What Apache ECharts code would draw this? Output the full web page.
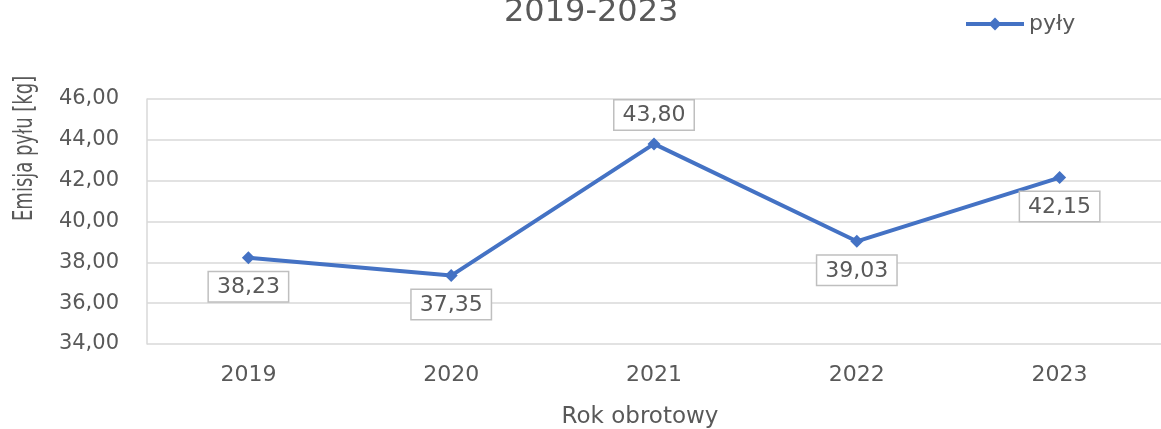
<!DOCTYPE html>
<html>
<head>
<meta charset="utf-8">
<script src="https://cdn.jsdelivr.net/npm/echarts@6/dist/echarts.min.js"></script>
<style>
    html, body { margin: 0; padding: 0; background: #fff; }
    #chart { width: 1161px; height: 429px; }
</style>
</head>
<body>
<div id="chart"></div>
<script>
// dane z wykresu
var lata = ['2019', '2020', '2021', '2022', '2023'];
var pyly = [38.23, 37.35, 43.80, 39.03, 42.15];
var polozenieEtykiet = ['bottom', 'bottom', 'top', 'bottom', 'bottom'];
var yMin = 34, yMax = 46, yKrok = 2;

var szary = '#595959';
var font = 'DejaVu Sans';

var chart = echarts.init(document.getElementById('chart'));

var punkty = pyly.map(function (v, i) {
    return {
        value: v,
        label: { position: polozenieEtykiet[i] }
    };
});

var option = {
    animation: false,
    title: {
        text: '2019-2023',
        left: 499,
        top: -8,
        textStyle: { fontFamily: font, fontSize: 32, fontWeight: 'normal', color: szary }
    },
    legend: {
        left: 959,
        top: 8,
        itemWidth: 58,
        itemHeight: 16,
        itemGap: 4,
        lineStyle: { width: 4 },
        textStyle: { fontFamily: font, fontSize: 22, color: szary },
        data: ['pyły']
    },
    grid: {
        left: 147,
        right: 0,
        top: 99,
        bottom: 85,
        outerBoundsMode: 'none'
    },
    graphic: [{
        type: 'text',
        x: 12,
        y: 221,
        rotation: Math.PI / 2,
        scaleY: 1.3,
        style: {
            text: 'Emisja pyłu [kg]',
            fontFamily: 'Liberation Sans Narrow, DejaVu Sans Condensed',
            fontSize: 20,
            fill: szary
        }
    }],
    xAxis: {
        type: 'category',
        data: lata,
        boundaryGap: true,
        axisLine: { show: false },
        axisTick: { show: false },
        axisLabel: { fontFamily: font, fontSize: 22, color: szary, margin: 20 },
        name: 'Rok obrotowy',
        nameLocation: 'middle',
        nameGap: 62,
        nameTextStyle: { fontFamily: font, fontSize: 23, color: szary, padding: [0, 28, 0, 0] }
    },
    yAxis: {
        type: 'value',
        min: yMin,
        max: yMax,
        interval: yKrok,
        axisLine: { show: true, lineStyle: { color: '#d9d9d9', width: 1.5 } },
        axisTick: { show: false },
        splitLine: { lineStyle: { color: '#d9d9d9', width: 1.5 } },
        axisLabel: {
            fontFamily: font, fontSize: 21, color: szary, margin: 28,
            formatter: function (v) { return v.toFixed(2).replace('.', ','); }
        }
    },
    series: [{
        name: 'pyły',
        type: 'line',
        data: punkty,
        symbol: 'diamond',
        symbolSize: 13,
        lineStyle: { color: '#4472c4', width: 4 },
        itemStyle: { color: '#4472c4' },
        label: {
            show: true,
            distance: 8,
            fontFamily: font,
            fontSize: 22,
            color: szary,
            backgroundColor: '#fff',
            borderColor: '#bfbfbf',
            borderWidth: 1.5,
            padding: [4, 8, 3, 8],
            formatter: function (p) { return p.value.toFixed(2).replace('.', ','); }
        }
    }]
};

chart.setOption(option);
</script>
</body>
</html>
